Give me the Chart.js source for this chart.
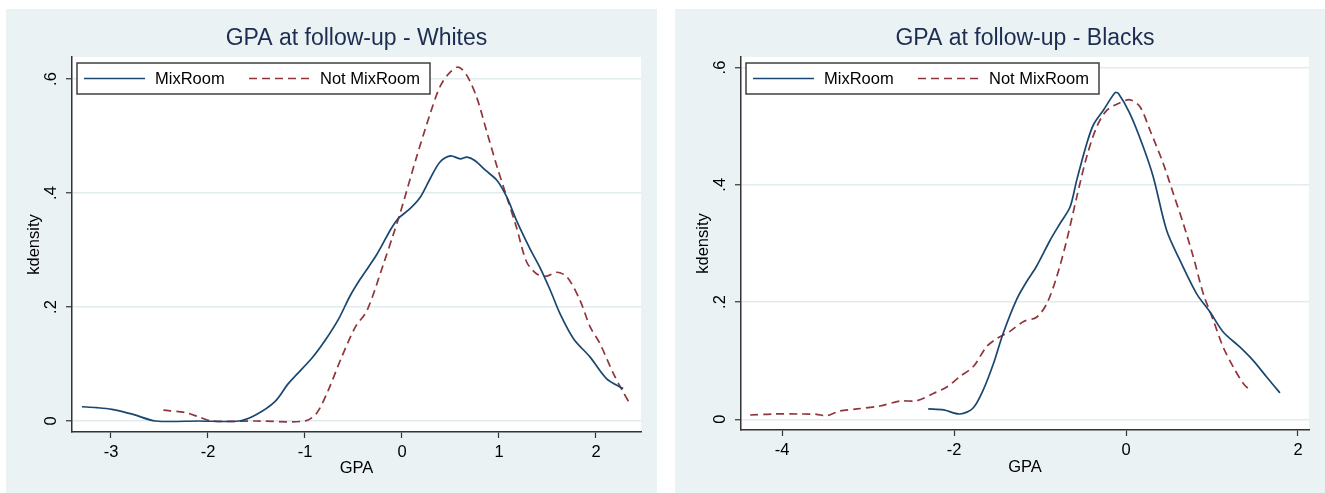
<!DOCTYPE html>
<html>
<head>
<meta charset="utf-8">
<script src="https://cdn.jsdelivr.net/npm/chart.js@4.4.0/dist/chart.umd.min.js"></script>
<style>
  body { margin: 0; width: 1325px; height: 493px; background: #ffffff; position: relative; overflow: hidden; }
  .panel { position: absolute; top: 9px; height: 484px; background: #eaf2f3; }
  #panel-w { left: 6px; width: 651px; }
  #panel-b { left: 675px; width: 650px; }
  canvas { display: block; }
</style>
</head>
<body>
<div class="panel" id="panel-w"><canvas id="chart-w" width="651" height="484"></canvas></div>
<div class="panel" id="panel-b"><canvas id="chart-b" width="650" height="484"></canvas></div>
<script>
// 數據 (從圖片讀出的 kdensity 曲線)
const seriesLabels = ['MixRoom', 'Not MixRoom'];

// Whites - MixRoom
const whitesMixX = [-3.30, -3.15, -2.99, -2.78, -2.54, -2.10, -1.68, -1.51, -1.31, -1.17, -0.93, -0.79, -0.65, -0.54, -0.43, -0.26, -0.12, -0.04, 0.08, 0.19, 0.29, 0.39, 0.50, 0.60, 0.67, 0.75, 0.86, 0.98, 1.08, 1.18, 1.32, 1.42, 1.53, 1.63, 1.77, 1.94, 2.11, 2.28];
const whitesMixY = [0.025, 0.0235, 0.0205, 0.012, 0, 0, 0, 0.0105, 0.034, 0.066, 0.11, 0.142, 0.18, 0.218, 0.249, 0.292, 0.335, 0.355, 0.372, 0.393, 0.425, 0.454, 0.465, 0.46, 0.463, 0.457, 0.44, 0.422, 0.393, 0.352, 0.302, 0.27, 0.229, 0.188, 0.144, 0.112, 0.074, 0.057];

// Whites - Not MixRoom
const whitesNotX = [-2.46, -2.23, -2.10, -1.96, -1.50, -1.00, -0.88, -0.76, -0.62, -0.48, -0.36, -0.19, -0.09, -0.02, 0.15, 0.29, 0.39, 0.48, 0.58, 0.67, 0.77, 0.87, 0.98, 1.08, 1.18, 1.285, 1.39, 1.49, 1.595, 1.70, 1.835, 1.94, 2.04, 2.18, 2.27, 2.35];
const whitesNotY = [0.019, 0.0146, 0.0076, 0, 0, 0, 0.0135, 0.054, 0.113, 0.165, 0.194, 0.276, 0.327, 0.364, 0.463, 0.539, 0.586, 0.609, 0.621, 0.606, 0.568, 0.51, 0.446, 0.393, 0.34, 0.279, 0.258, 0.254, 0.261, 0.253, 0.212, 0.165, 0.136, 0.083, 0.054, 0.03];

// Blacks - MixRoom
const blacksMixX = [-2.30, -2.12, -1.93, -1.78, -1.66, -1.54, -1.43, -1.27, -1.155, -1.04, -0.884, -0.767, -0.651, -0.573, -0.457, -0.38, -0.264, -0.128, -0.09, 0.047, 0.20, 0.318, 0.473, 0.628, 0.822, 0.977, 1.13, 1.326, 1.48, 1.636, 1.79];
const blacksMixY = [0.0176, 0.0159, 0.009, 0.0188, 0.05, 0.0955, 0.146, 0.205, 0.235, 0.261, 0.305, 0.334, 0.362, 0.408, 0.47, 0.502, 0.527, 0.557, 0.556, 0.521, 0.465, 0.413, 0.322, 0.271, 0.214, 0.183, 0.149, 0.123, 0.1, 0.072, 0.045];

// Blacks - Not MixRoom
const blacksNotX = [-4.37, -4.10, -3.79, -3.60, -3.48, -3.33, -3.13, -2.86, -2.63, -2.43, -2.24, -2.085, -1.93, -1.775, -1.62, -1.50, -1.35, -1.19, -1.04, -0.922, -0.806, -0.69, -0.573, -0.457, -0.34, -0.224, -0.07, 0.047, 0.163, 0.279, 0.434, 0.55, 0.666, 0.783, 0.899, 1.015, 1.13, 1.248, 1.364, 1.44];
const blacksNotY = [0.0073, 0.009, 0.009, 0.0085, 0.006, 0.014, 0.0176, 0.0227, 0.031, 0.0318, 0.044, 0.055, 0.073, 0.09, 0.124, 0.138, 0.15, 0.167, 0.174, 0.197, 0.243, 0.305, 0.379, 0.448, 0.499, 0.527, 0.54, 0.545, 0.533, 0.493, 0.436, 0.385, 0.334, 0.277, 0.214, 0.169, 0.123, 0.089, 0.061, 0.0495];

// 刻度
const yTicks = [0, 0.2, 0.4, 0.6];
const whitesXTicks = [-3, -2, -1, 0, 1, 2];
const blacksXTicks = [-4, -2, 0, 2];

const FONT = '"Liberation Sans", Arial, sans-serif';
const NAVY = '#1a476f';
const MAROON = '#90353b';

function toPoints(xs, ys) {
    return xs.map((x, i) => ({ x: x, y: ys[i] }));
}

// 白色繪圖區
const plotBg = {
    id: 'plotBg',
    beforeDraw(chart) {
        const a = chart.chartArea;
        const ctx = chart.ctx;
        ctx.save();
        ctx.fillStyle = '#ffffff';
        ctx.fillRect(a.left, a.top, a.right - a.left, a.bottom - a.top);
        ctx.restore();
    }
};

// 圖內圖例 (Stata 樣式)
const boxLegend = {
    id: 'boxLegend',
    afterDraw(chart) {
        const a = chart.chartArea;
        const ctx = chart.ctx;
        const bx = a.left + 5, by = a.top + 6, bw = 353, bh = 31;
        ctx.save();
        ctx.fillStyle = '#ffffff';
        ctx.fillRect(bx, by, bw, bh);
        ctx.strokeStyle = '#404040';
        ctx.lineWidth = 1.5;
        ctx.strokeRect(bx, by, bw, bh);
        const cy = by + bh / 2;
        const items = [
            { x0: 7, x1: 68, tx: 78 },
            { x0: 172, x1: 233, tx: 243 }
        ];
        chart.data.datasets.forEach((ds, i) => {
            const it = items[i];
            ctx.strokeStyle = ds.borderColor;
            ctx.lineWidth = ds.borderWidth;
            ctx.setLineDash(ds.borderDash || []);
            ctx.beginPath();
            ctx.moveTo(bx + it.x0, cy);
            ctx.lineTo(bx + it.x1, cy);
            ctx.stroke();
            ctx.setLineDash([]);
            ctx.fillStyle = '#000000';
            ctx.font = '16.5px ' + FONT;
            ctx.textBaseline = 'middle';
            ctx.textAlign = 'left';
            ctx.fillText(ds.label, bx + it.tx, cy + 1);
        });
        ctx.restore();
    }
};

function makeChart(id, title, mix, notMix, xTicks, xr, yr, xAxisH, gpaPad) {
    const ctx = document.getElementById(id).getContext('2d');
    return new Chart(ctx, {
        type: 'scatter',
        data: {
            datasets: [
                {
                    label: seriesLabels[0],
                    data: mix,
                    showLine: true,
                    borderColor: NAVY,
                    borderWidth: 1.7,
                    pointRadius: 0,
                    tension: 0.3
                },
                {
                    label: seriesLabels[1],
                    data: notMix,
                    showLine: true,
                    borderColor: MAROON,
                    borderWidth: 1.7,
                    borderDash: [8, 5],
                    pointRadius: 0,
                    tension: 0.3
                }
            ]
        },
        options: {
            responsive: false,
            animation: false,
            devicePixelRatio: 1,
            layout: { padding: { left: 0, right: 16, top: 0, bottom: 0 } },
            scales: {
                x: {
                    type: 'linear',
                    min: xr[0],
                    max: xr[1],
                    afterBuildTicks: (s) => { s.ticks = xTicks.map(v => ({ value: v })); },
                    afterFit: (s) => { s.height = xAxisH; },
                    ticks: {
                        color: '#000000',
                        font: { family: FONT, size: 16.5 },
                        padding: 5,
                        maxRotation: 0
                    },
                    grid: {
                        drawOnChartArea: false,
                        drawTicks: true,
                        tickLength: 6,
                        tickColor: '#333333',
                        tickWidth: 1.2
                    },
                    border: { color: '#333333', width: 1.5 },
                    title: {
                        display: true,
                        text: 'GPA',
                        color: '#000000',
                        font: { family: FONT, size: 16.5 },
                        padding: { top: 0, bottom: gpaPad }
                    }
                },
                y: {
                    type: 'linear',
                    min: yr[0],
                    max: yr[1],
                    afterBuildTicks: (s) => { s.ticks = yTicks.map(v => ({ value: v })); },
                    afterFit: (s) => { s.width = 66; },
                    ticks: {
                        color: '#000000',
                        font: { family: FONT, size: 16.5 },
                        minRotation: 90,
                        maxRotation: 90,
                        crossAlign: 'center',
                        padding: 8,
                        callback: (v) => v === 0 ? '0' : String(+v.toFixed(1)).replace('0.', '.')
                    },
                    grid: {
                        color: '#e1ebee',
                        lineWidth: 1.5,
                        drawTicks: true,
                        tickLength: 6,
                        tickColor: '#333333',
                        tickWidth: 1.2
                    },
                    border: { color: '#333333', width: 1.5 },
                    title: {
                        display: true,
                        text: 'kdensity',
                        color: '#000000',
                        font: { family: FONT, size: 16.5 },
                        padding: { top: 19, bottom: 0 }
                    }
                }
            },
            plugins: {
                legend: { display: false },
                tooltip: { enabled: false },
                title: {
                    display: true,
                    fullSize: false,
                    text: title,
                    color: '#1c2d52',
                    font: { family: FONT, size: 23, weight: 'normal' },
                    padding: { top: 16, bottom: 4.4 }
                }
            }
        },
        plugins: [plotBg, boxLegend]
    });
}

makeChart('chart-w', 'GPA at follow-up - Whites',
    toPoints(whitesMixX, whitesMixY), toPoints(whitesNotX, whitesNotY),
    whitesXTicks, [-3.402, 2.464], [-0.0193, 0.6386], 61, 15);

makeChart('chart-b', 'GPA at follow-up - Blacks',
    toPoints(blacksMixX, blacksMixY), toPoints(blacksNotX, blacksNotY),
    blacksXTicks, [-4.477, 2.128], [-0.0183, 0.618], 63, 16);
</script>
</body>
</html>
